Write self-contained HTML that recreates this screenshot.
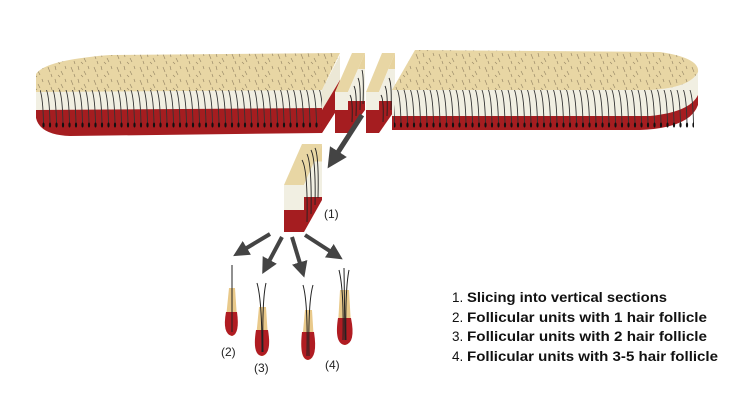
<!DOCTYPE html>
<html><head><meta charset="utf-8"><style>
html,body{margin:0;padding:0;background:#fff;}
svg{display:block}
</style></head><body>
<svg width="756" height="411" viewBox="0 0 756 411" xmlns="http://www.w3.org/2000/svg">
<defs>
<pattern id="fol" x="0" y="0" width="6.5" height="411" patternUnits="userSpaceOnUse">
<path d="M1 90 Q4 98 4.5 124" stroke="#333" stroke-width="0.9" fill="none"/>
<ellipse cx="4.5" cy="125" rx="1.1" ry="2.5" fill="#111"/>
</pattern>
<pattern id="hairs" width="23" height="13" patternUnits="userSpaceOnUse">
<path d="M2 2 l2 5 M9 1 l1 4 M15 6 l2 4 M5 9 l1 3 M19 1 l1 3 M12 10 l2 2" stroke="#7a6a50" stroke-width="0.7"/>
</pattern>
<linearGradient id="sideg" x1="0" y1="0" x2="0" y2="1">
<stop offset="0" stop-color="#e7d39e"/><stop offset="0.2" stop-color="#e7d39e"/>
<stop offset="0.2" stop-color="#f1efe2"/><stop offset="0.6" stop-color="#f1efe2"/>
<stop offset="0.6" stop-color="#a51d20"/><stop offset="1" stop-color="#a51d20"/>
</linearGradient>
<marker id="ah" markerWidth="4" markerHeight="4" refX="2" refY="2" orient="auto" markerUnits="strokeWidth">
<path d="M0 0 L4 2 L0 4 z" fill="#444"/></marker>
</defs>

<!-- left segment -->
<path d="M36 90 L36 118 Q40 135 70 136 L322 133 L340 105 L340 80 L322 105 Z" fill="#a51d20"/>
<path d="M36 88 L36 110 L322 108 L322 88 Z" fill="#f1efe2"/>
<path d="M322 90 L340 55 L340 82 L322 112 Z" fill="#ece8d6"/>
<path d="M322 110 L340 80 L340 105 L322 133 Z" fill="#a51d20"/>
<path d="M36 74 Q45 60 110 55 L340 53 L322 90 L36 92 Z" fill="#e8d6a4"/>
<path d="M36 74 Q45 60 110 55 L340 53 L322 90 L36 92 Z" fill="url(#hairs)" opacity="0.7"/>
<rect x="40" y="90" width="282" height="40" fill="url(#fol)"/>

<!-- slice 1 -->
<path d="M335 92 L352 53 L365 53 L348 92 Z" fill="#e8d6a4"/>
<rect x="335" y="92" width="13" height="18" fill="#f1efe2"/>
<rect x="335" y="110" width="13" height="23" fill="#a51d20"/>
<path d="M348 92 L365 53 L365 110 L348 133 Z" fill="url(#sideg)"/>
<g stroke="#222" stroke-width="0.9" fill="none"><path d="M350 95 Q353 100 352 122 M354 86 Q357 92 356 116 M358 78 Q361 84 360 110 M362 70 Q364 76 363 104"/></g>
<!-- slice 2 -->
<path d="M366 92 L382 53 L395 53 L379 92 Z" fill="#e8d6a4"/>
<rect x="366" y="92" width="13" height="18" fill="#f1efe2"/>
<rect x="366" y="110" width="13" height="23" fill="#a51d20"/>
<path d="M379 92 L395 53 L395 110 L379 133 Z" fill="url(#sideg)"/>
<g stroke="#222" stroke-width="0.9" fill="none"><path d="M381 95 Q384 100 383 122 M385 86 Q388 92 387 116 M389 78 Q392 84 391 110"/></g>

<!-- right segment -->
<path d="M392 90 L392 130 L640 130 Q690 128 698 105 L698 80 L680 90 Z" fill="#a51d20"/>
<path d="M392 90 L392 116 L650 116 Q690 112 698 95 L698 72 Q690 88 650 90 Z" fill="#f1efe2"/>
<path d="M392 90 L415 50 L660 52 Q700 58 698 72 Q690 88 650 90 Z" fill="#e8d6a4"/>
<path d="M392 90 L415 50 L660 52 Q700 58 698 72 Q690 88 650 90 Z" fill="url(#hairs)" opacity="0.7"/>
<rect x="394" y="90" width="300" height="40" fill="url(#fol)"/>

<!-- big arrow -->
<line x1="362" y1="115" x2="333" y2="160" stroke="#444" stroke-width="5" marker-end="url(#ah)"/>

<!-- section (1) -->
<path d="M284 185 L302 144 L322 144 L304 185 Z" fill="#e8d6a4"/>
<rect x="284" y="185" width="20" height="25" fill="#f1efe2"/>
<rect x="284" y="210" width="20" height="22" fill="#a51d20"/>
<path d="M304 185 L322 144 L322 200 L304 232 Z" fill="url(#sideg)"/>
<g stroke="#222" stroke-width="0.9" fill="none"><path d="M302 160 Q308 170 307 222 M307 154 Q312 165 311 214 M311 150 Q316 160 315 205 M315 148 Q319 156 318 198"/></g>
<text x="324" y="218" font-family="Liberation Sans, sans-serif" font-size="12" fill="#222">(1)</text>

<!-- small arrows -->
<g stroke="#444" stroke-width="4" fill="none">
<line x1="270" y1="234" x2="240" y2="252" marker-end="url(#ah)"/>
<line x1="282" y1="237" x2="266" y2="267" marker-end="url(#ah)"/>
<line x1="292" y1="237" x2="302" y2="270" marker-end="url(#ah)"/>
<line x1="305" y1="235" x2="336" y2="255" marker-end="url(#ah)"/>
</g>

<!-- hairs -->
<g>
<path d="M229 288 L235 288 L237 318 Q238 335 232 336 Q225 335 226 318 Z" fill="#e9c98a"/>
<path d="M226 312 Q222 334 232 336 Q240 334 237 312 Z" fill="#b01c22"/>
<path d="M232 265 L232 332" stroke="#222" stroke-width="1"/>
<path d="M259 307 L266 307 L268 338 Q269 356 262 356 Q254 355 256 338 Z" fill="#e9c98a"/>
<path d="M256 330 Q252 355 262 356 Q272 354 268 330 Z" fill="#b01c22"/>
<path d="M257 283 Q262 300 262 352 M266 283 Q262 300 263 352" stroke="#222" stroke-width="1" fill="none"/>
<path d="M305 310 L312 310 L314 342 Q315 360 308 360 Q300 359 302 342 Z" fill="#e9c98a"/>
<path d="M302 332 Q299 359 308 360 Q318 358 314 332 Z" fill="#b01c22"/>
<path d="M303 285 Q308 302 307 356 M313 285 Q308 302 309 356" stroke="#222" stroke-width="1" fill="none"/>
<path d="M340 290 L349 290 L351 325 Q352 345 345 345 Q336 344 338 325 Z" fill="#e9c98a"/>
<path d="M338 318 Q334 344 345 345 Q356 343 351 318 Z" fill="#b01c22"/>
<path d="M339 270 Q344 290 343 340 M349 270 Q345 290 346 340 M344 268 L345 340" stroke="#222" stroke-width="1" fill="none"/>
</g>
<g font-family="Liberation Sans, sans-serif" font-size="12" fill="#222">
<text x="221" y="356">(2)</text>
<text x="254" y="372">(3)</text>
<text x="325" y="369">(4)</text>
</g>

<!-- legend -->
<g font-family="Liberation Sans, sans-serif" font-size="13.5" fill="#111">
<text x="452" y="302">1.</text><text x="467" y="302" font-weight="bold" textLength="200" lengthAdjust="spacingAndGlyphs">Slicing into vertical sections</text>
<text x="452" y="322">2.</text><text x="467" y="322" font-weight="bold" textLength="240" lengthAdjust="spacingAndGlyphs">Follicular units with 1 hair follicle</text>
<text x="452" y="341">3.</text><text x="467" y="341" font-weight="bold" textLength="240" lengthAdjust="spacingAndGlyphs">Follicular units with 2 hair follicle</text>
<text x="452" y="361">4.</text><text x="467" y="361" font-weight="bold" textLength="251" lengthAdjust="spacingAndGlyphs">Follicular units with 3-5 hair follicle</text>
</g>
</svg>
</body></html>
